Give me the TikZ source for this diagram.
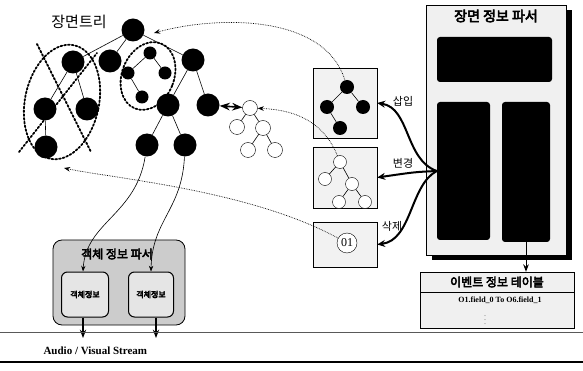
\documentclass[tikz,border=0pt]{standalone}
\usepackage{fontspec}
\newfontfamily\kr{Noto Sans CJK KR}
\newfontfamily\krb[FakeBold=4]{Noto Sans CJK KR}
\newfontfamily\tms{Liberation Serif}
\usetikzlibrary{shapes.misc, arrows.meta, positioning, shadows}

\begin{document}
\begin{tikzpicture}[x=1pt, y=-1pt, >=Stealth,
  bignode/.style={circle, fill=black, inner sep=0pt, minimum size=23pt},
  smallnode/.style={circle, fill=black, inner sep=0pt, minimum size=13pt},
  docblack/.style={circle, fill=black, inner sep=0pt, minimum size=14pt},
  hollownode/.style={circle, draw, fill=white, inner sep=0pt, minimum size=13pt},
  docnode/.style={chamfered rectangle, chamfered rectangle corners=north west,
    chamfered rectangle xsep=4pt, chamfered rectangle ysep=4pt, draw, fill=gray!10,
    inner sep=0pt, minimum width=64pt},
  bigdots/.style={dotted, line width=1.8pt, line cap=round},
  thindots/.style={densely dotted, line width=0.7pt},
  thickarr/.style={line width=2pt, -{Stealth[length=8pt,width=7pt]}},
  treeedge/.style={line width=0.6pt},
  blackbox/.style={rectangle, rounded corners=3pt, fill=black, inner sep=0pt},
  every node/.style={font=\kr}]

\useasboundingbox (0,0) rectangle (583,371);

% Scene tree
\node at (79,22) (treetitle) {\fontsize{15}{15}\selectfont 장면트리};
\node[bignode] at (133,30) (root) {};
\node[bignode] at (73,62) (na) {};
\node[bignode] at (110,61) (nb) {};
\node[bignode] at (193,60) (nc) {};
\node[bignode] at (45,109) (na1) {};
\node[bignode] at (87,109) (na2) {};
\node[bignode] at (46,147) (na11) {};
\node[bignode] at (168,105) (nc1) {};
\node[bignode] at (208,105) (nc2) {};
\node[bignode] at (147,145) (nc11) {};
\node[bignode] at (185,145) (nc12) {};
\node[smallnode] at (150,53) (s1) {};
\node[smallnode] at (128,73) (s2) {};
\node[smallnode] at (165,73) (s3) {};
\node[smallnode] at (142,97) (s4) {};

\foreach \target in {na,nb,nc} {
  \draw[treeedge] (root) -- (\target);
}
\draw[treeedge] (na) -- (na1);
\draw[treeedge] (na) -- (na2);
\draw[treeedge] (na1) -- (na11);
\draw[treeedge] (nc) -- (nc1);
\draw[treeedge] (nc) -- (nc2);
\draw[treeedge] (nc1) -- (nc11);
\draw[treeedge] (nc1) -- (nc12);
\draw[treeedge] (s1) -- (s2);
\draw[treeedge] (s1) -- (s3);
\draw[treeedge] (s2) -- (s4);

% Dotted marks on the tree
\draw[bigdots] (62,102) ellipse [x radius=37, y radius=58, rotate=-12];
\draw[bigdots] (37,44) -- (91,152);
\draw[bigdots] (19,152) -- (97,53);
\draw[bigdots] (148,76) ellipse [x radius=26, y radius=35, rotate=-22];

% Small hollow tree
\node[hollownode, minimum size=15pt] at (250,108) (troot) {};
\node[hollownode, minimum size=15pt] at (237,127) (t1) {};
\node[hollownode, minimum size=15pt] at (263,128) (t2) {};
\node[hollownode, minimum size=15pt] at (248,150) (t3) {};
\node[hollownode, minimum size=15pt] at (275,150) (t4) {};
\draw[treeedge] (troot) -- (t1);
\draw[treeedge] (troot) -- (t2);
\draw[treeedge] (t2) -- (t3);
\draw[treeedge] (t2) -- (t4);
\draw[<->, line width=1.6pt] (nc2) -- (troot);

% Documents
\node[docnode, minimum height=70pt] at (345,103) (doc1) {};
\node[docblack] at (347,87) (d1a) {};
\node[docblack] at (327,107) (d1b) {};
\node[docblack] at (363,107) (d1c) {};
\node[docblack] at (340,128) (d1d) {};
\draw[treeedge] (d1a) -- (d1b);
\draw[treeedge] (d1a) -- (d1c);
\draw[treeedge] (d1b) -- (d1d);

\node[docnode, minimum height=61pt] at (345,177.5) (doc2) {};
\node[hollownode] at (340,162) (d2a) {};
\node[hollownode] at (325,179) (d2b) {};
\node[hollownode] at (352,184) (d2c) {};
\node[hollownode] at (339,202) (d2d) {};
\node[hollownode] at (365,202) (d2e) {};
\draw[treeedge] (d2a) -- (d2b);
\draw[treeedge] (d2a) -- (d2c);
\draw[treeedge] (d2c) -- (d2d);
\draw[treeedge] (d2c) -- (d2e);

\node[docnode, minimum height=45pt] at (345,244.5) (doc3) {};
\node[hollownode, minimum size=20pt, font=\tms\fontsize{12}{12}\selectfont] at (347,243) (d3a) {01};

% Dotted links back to the scene tree
\coordinate (insertpt) at (154,33);
\coordinate (deletept) at (64,168);
\draw[thindots, ->] (d1a) .. controls (325,15) and (220,15) .. (insertpt);
\draw[thindots, ->] (d2a) .. controls (325,125) and (300,110) .. (troot);
\draw[thindots, ->] (d3a) .. controls (250,190) and (110,178) .. (deletept);

% Scene information parser
\node[rectangle, draw, fill=gray!12, minimum width=140pt, minimum height=250pt,
  drop shadow={shadow xshift=6pt, shadow yshift=-5pt, fill=black, opacity=1}]
  at (496,130) (scenepanel) {};
\node at (496,16) (scenetitle) {\krb\fontsize{14}{14}\selectfont 장면 정보 파서};
\node[blackbox, minimum width=115pt, minimum height=45pt] at (494.5,59.5) (blktop) {};
\node[blackbox, minimum width=53pt, minimum height=138pt] at (463.5,171) (blkleft) {};
\node[blackbox, minimum width=48pt, minimum height=140pt] at (526,172) (blkright) {};

\draw[thickarr] (blkleft.west) .. controls (405,160) and (410,108) .. (doc1.east);
\draw[thickarr] (blkleft.west) .. controls (415,172) .. (doc2.east);
\draw[thickarr] (blkleft.west) .. controls (410,185) and (412,240) .. (doc3.east);
\node at (403,101) (insertlbl) {\fontsize{11}{11}\selectfont 삽입};
\node at (403,163) (changelbl) {\fontsize{11}{11}\selectfont 변경};
\node at (392,226) (deletelbl) {\fontsize{11}{11}\selectfont 삭제};

% Event information table
\node[rectangle, draw, fill=gray!12, minimum width=154pt, minimum height=20pt] at (497,282) (tablehead)
  {\krb\fontsize{12}{12}\selectfont 이벤트 정보 테이블};
\node[rectangle, draw, fill=gray!12, minimum width=154pt, minimum height=36pt, anchor=north]
  at (tablehead.south) (tablebody) {};
\node[font=\tms\bfseries\fontsize{8}{8}\selectfont, inner sep=1pt] at (500,300) (tablerow) {O1.field\_0 To O6.field\_1};
\node[font=\tms\fontsize{6}{6}\selectfont, inner sep=0pt] at (485,317) (tabledots) {$\vdots$};
\draw[->, line width=1pt] (blkright.south) -- (blkright.south |- tablehead.north);

% Object information parser
\node[rectangle, rounded corners=9pt, draw, line width=0.8pt, fill=gray!40,
  minimum width=132pt, minimum height=85pt] at (119,282.5) (objparser) {};
\node at (117,254) (objtitle) {\krb\fontsize{12}{12}\selectfont 객체 정보 파서};
\node[rectangle, rounded corners=6pt, draw, line width=1pt, fill=gray!20,
  minimum width=47pt, minimum height=45pt] at (85,294.5) (objinner1)
  {\krb\fontsize{8}{8}\selectfont 객체정보};
\node[rectangle, rounded corners=6pt, draw, line width=1pt, fill=gray!20,
  minimum width=45pt, minimum height=45pt] at (151,294.5) (objinner2)
  {\krb\fontsize{8}{8}\selectfont 객체정보};

\draw[->, treeedge] (nc11) .. controls (136,215) and (86,222) .. ([xshift=-2pt]objinner1.north);
\draw[->, treeedge] (nc12) .. controls (182,210) and (152,220) .. (objinner2.north);

% Audio / Visual stream
\coordinate (streamleft) at (0,332);
\coordinate (streamright) at (583,332);
\coordinate (stream1) at (83,338);
\coordinate (stream2) at (156,338);
\draw[->, line width=1.2pt] (objinner1.south -| stream1) -- (stream1);
\draw[->, line width=1.2pt] (objinner2.south -| stream2) -- (stream2);
\draw[line width=0.7pt, gray!70!black] (streamleft) -- (streamright);
\node[font=\tms\bfseries\fontsize{11}{11}\selectfont, anchor=west] at (40,351) (streamlbl) {Audio / Visual Stream};
\coordinate (baseleft) at (0,362);
\coordinate (baseright) at (583,362);
\draw[line width=2.5pt] (baseleft) -- (baseright);

\end{tikzpicture}
\end{document}
